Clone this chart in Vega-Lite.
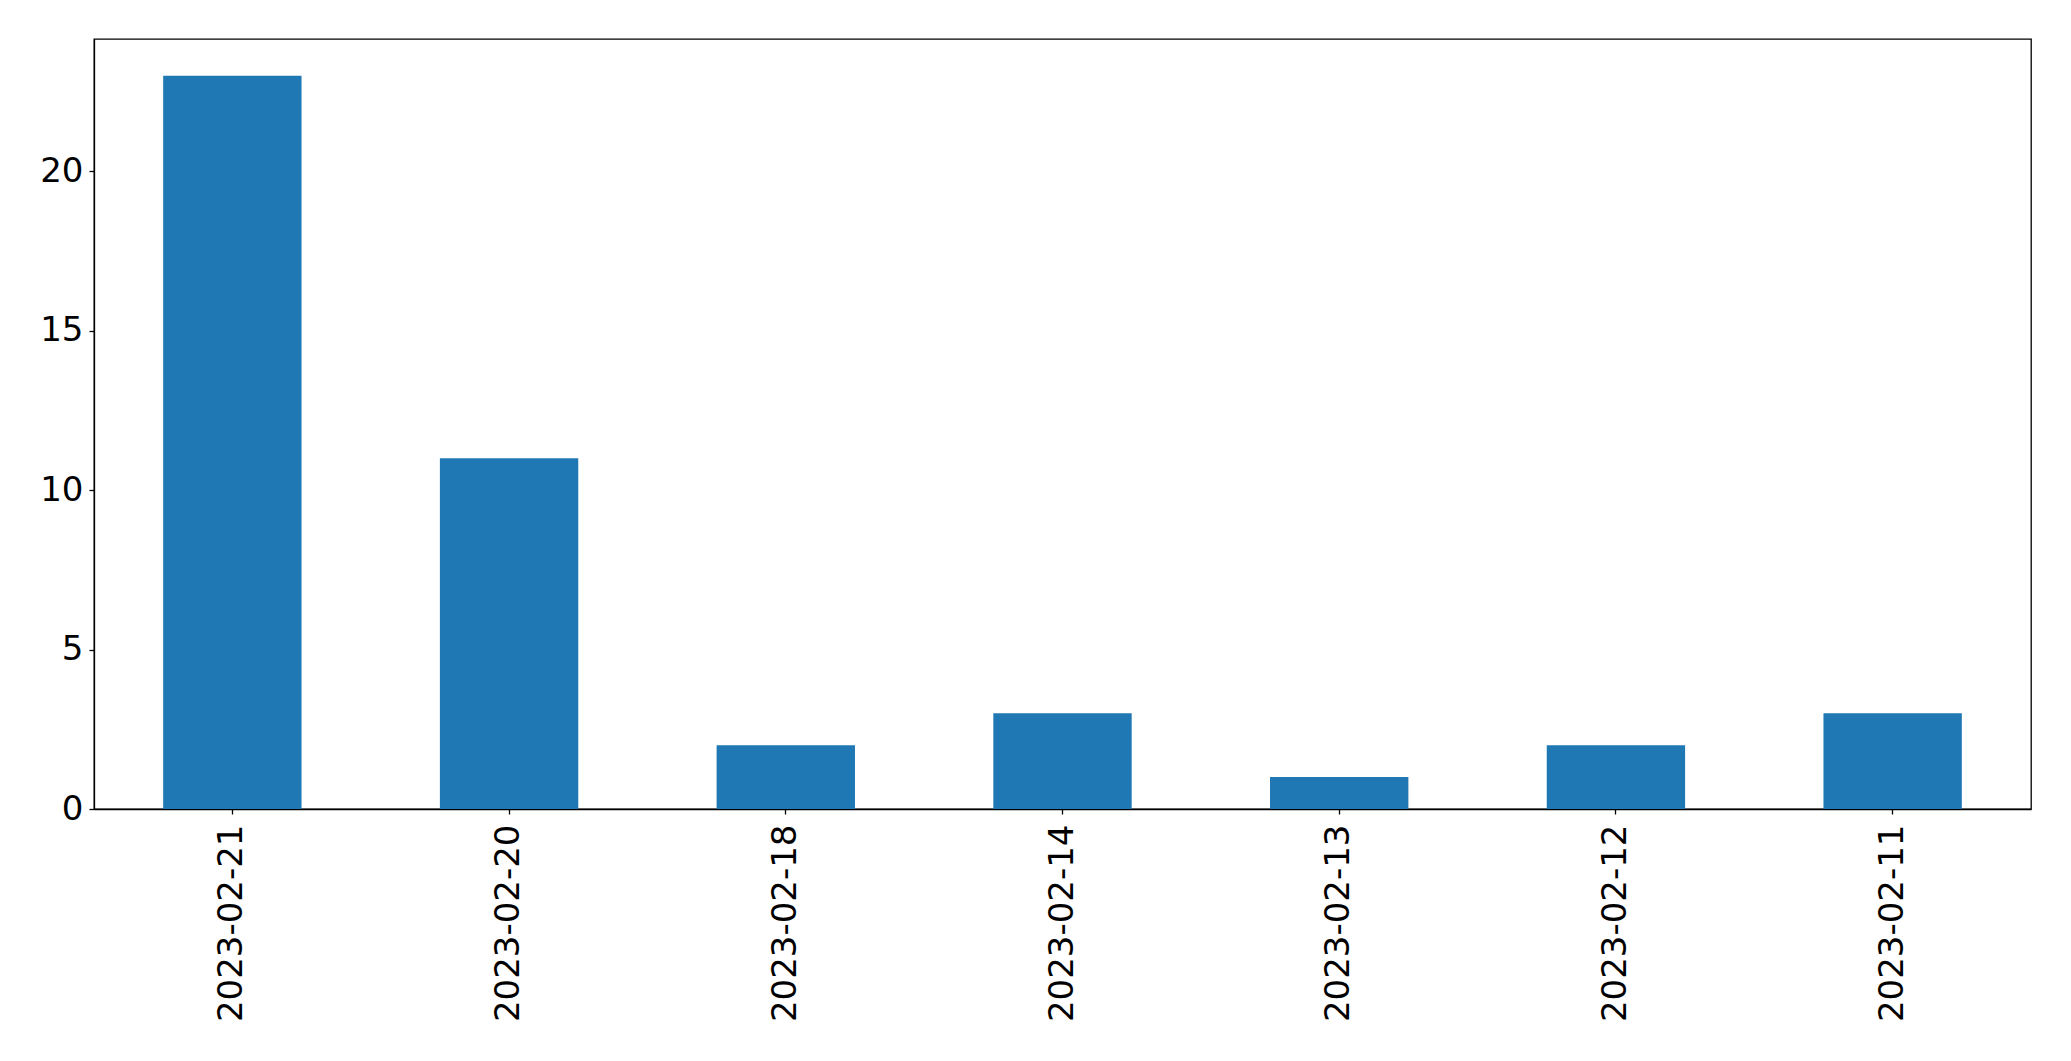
{
  "$schema": "https://vega.github.io/schema/vega-lite/v6.json",
  "autosize": {"type": "none"},
  "width": 1937,
  "height": 770,
  "padding": {"left": 94, "top": 39, "right": 40, "bottom": 252},
  "background": "white",
  "config": {
    "view": {"stroke": "black", "strokeWidth": 1.3},
    "axis": {
      "labelFont": "DejaVu Sans",
      "labelFontSize": 34,
      "labelColor": "black",
      "labelLimit": 0,
      "tickColor": "black",
      "domainColor": "black",
      "tickSize": 5,
      "tickWidth": 1.3,
      "domainWidth": 1.3,
      "grid": false,
      "title": null
    }
  },
  "data": {
    "values": [
      {"date": "2023-02-21", "count": 23},
      {"date": "2023-02-20", "count": 11},
      {"date": "2023-02-18", "count": 2},
      {"date": "2023-02-14", "count": 3},
      {"date": "2023-02-13", "count": 1},
      {"date": "2023-02-12", "count": 2},
      {"date": "2023-02-11", "count": 3}
    ]
  },
  "mark": {"type": "bar", "color": "#1f77b4"},
  "encoding": {
    "x": {
      "field": "date",
      "type": "nominal",
      "sort": null,
      "scale": {"paddingInner": 0.5, "paddingOuter": 0.25},
      "axis": {"labelAngle": 270, "labelPadding": 10, "labelFontSize": 34, "labelLimit": 0}
    },
    "y": {
      "field": "count",
      "type": "quantitative",
      "scale": {"domain": [0, 24.15], "nice": false, "zero": true},
      "axis": {"values": [0, 5, 10, 15, 20], "labelPadding": 6, "labelFontSize": 34}
    }
  }
}
